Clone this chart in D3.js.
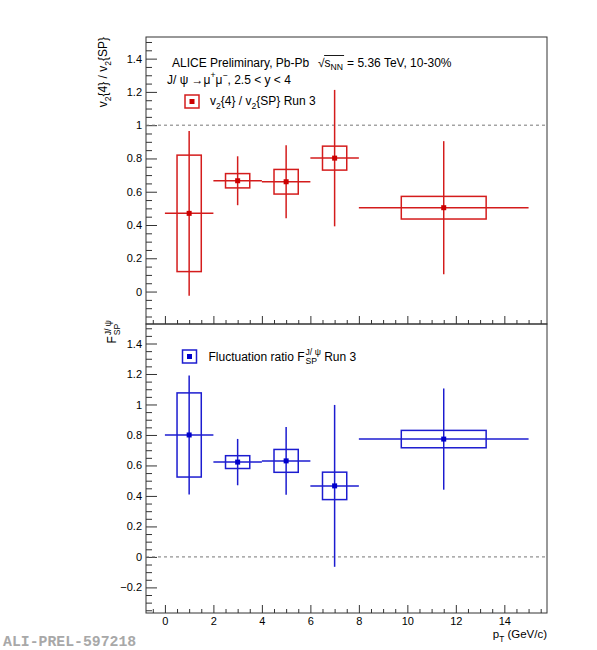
<!DOCTYPE html>
<html>
<head>
<meta charset="utf-8">
<script src="https://cdn.jsdelivr.net/npm/d3@7"></script>
<style>
  body { margin: 0; background: #fff; }
  svg { display: block; }
  text { font-family: "Liberation Sans", Arial, Helvetica, sans-serif; white-space: pre; }
</style>
</head>
<body>
<svg id="canvas" width="597" height="650"></svg>
<script>
// pT bins (GeV/c)
const ptBins = [1, 3, 5, 7, 11.5];
const ptErr = [1, 1, 1, 1, 3.5];
const ptBoxHalf = [0.5, 0.5, 0.5, 0.5, 1.75];

// v2{4} / v2{SP}
const v2Ratio = [0.47, 0.666, 0.66, 0.802, 0.504];
const v2RatioStat = [0.495, 0.147, 0.22, 0.41, 0.40];
const v2RatioSys = [0.35, 0.043, 0.074, 0.072, 0.068];

// fluctuation ratio F_SP^{J/psi}
const fluctRatio = [0.80, 0.622, 0.63, 0.466, 0.773];
const fluctStat = [0.39, 0.152, 0.223, 0.531, 0.332];
const fluctSys = [0.276, 0.042, 0.075, 0.09, 0.057];

// ticks
const xTicks = [0, 2, 4, 6, 8, 10, 12, 14];
const yTicksTop = [0, 0.2, 0.4, 0.6, 0.8, 1, 1.2, 1.4];
const yTicksBottom = [-0.2, 0, 0.2, 0.4, 0.6, 0.8, 1, 1.2, 1.4];

const red = "#d41c1c", redMarker = "#cc0000";
const blue = "#1c1cd0", blueMarker = "#0000cc";

const svg = d3.select("#canvas");
const left = 146, right = 547;
const topY = 37, midY = 324, botY = 613;

const x = d3.scaleLinear().domain([-0.78, 15.76]).range([left, right]);
const yTop = d3.scaleLinear().domain([-0.195, 1.53]).range([midY, topY]);
const yBot = d3.scaleLinear().domain([-0.368, 1.528]).range([botY, midY]);

const fmt = d => String(Math.round(d * 10) / 10).replace("-", "\u2212");
const xMinor = d3.range(-0.5, 15.76, 0.5).filter(v => Math.abs(v / 2 - Math.round(v / 2)) > 1e-6);

function minorY(y) {
    const [a, b] = y.domain();
    return d3.range(Math.ceil(a / 0.05) * 0.05, b, 0.05)
        .filter(v => Math.abs(v / 0.2 - Math.round(v / 0.2)) > 1e-6);
}

function styleAxis(g) {
    g.select(".domain").remove();
    g.selectAll(".tick line").attr("stroke", "#333").attr("stroke-width", 1);
    g.selectAll(".tick text")
        .attr("font-family", "Liberation Sans, Arial, sans-serif")
        .attr("font-size", 11)
        .attr("fill", "#000");
}

function drawPanel(y, yTicks, y0, y1, showXLabels) {
    const g = svg.append("g");

    g.append("g").attr("transform", `translate(${left},0)`)
        .call(d3.axisLeft(y).tickValues(yTicks).tickSize(-11).tickSizeOuter(0).tickPadding(4).tickFormat(fmt))
        .call(styleAxis);
    g.append("g").attr("transform", `translate(${left},0)`)
        .call(d3.axisLeft(y).tickValues(minorY(y)).tickSize(-6).tickSizeOuter(0).tickFormat(""))
        .call(styleAxis);

    g.append("g").attr("transform", `translate(0,${y1})`)
        .call(d3.axisBottom(x).tickValues(xTicks).tickSize(-8).tickSizeOuter(0).tickPadding(4)
            .tickFormat(showXLabels ? d3.format("d") : ""))
        .call(styleAxis);
    g.append("g").attr("transform", `translate(0,${y1})`)
        .call(d3.axisBottom(x).tickValues(xMinor).tickSize(-4).tickSizeOuter(0).tickFormat(""))
        .call(styleAxis);

    g.append("rect")
        .attr("x", left).attr("y", y0)
        .attr("width", right - left).attr("height", y1 - y0)
        .attr("fill", "none").attr("stroke", "#333").attr("stroke-width", 1);
    return g;
}

function drawSeries(y, vals, stat, sys, color, markerColor) {
    const g = svg.append("g");
    const idx = d3.range(vals.length);

    g.selectAll(".sys").data(idx).join("rect")
        .attr("x", i => x(ptBins[i] - ptBoxHalf[i]))
        .attr("width", i => x(ptBins[i] + ptBoxHalf[i]) - x(ptBins[i] - ptBoxHalf[i]))
        .attr("y", i => y(vals[i] + sys[i]))
        .attr("height", i => y(vals[i] - sys[i]) - y(vals[i] + sys[i]))
        .attr("fill", "none").attr("stroke", color).attr("stroke-width", 1.5);

    g.selectAll(".ex").data(idx).join("line")
        .attr("x1", i => x(ptBins[i] - ptErr[i]))
        .attr("x2", i => x(ptBins[i] + ptErr[i]))
        .attr("y1", i => y(vals[i])).attr("y2", i => y(vals[i]))
        .attr("stroke", color).attr("stroke-width", 1.5);

    g.selectAll(".ey").data(idx).join("line")
        .attr("x1", i => x(ptBins[i])).attr("x2", i => x(ptBins[i]))
        .attr("y1", i => y(vals[i] + stat[i]))
        .attr("y2", i => y(vals[i] - stat[i]))
        .attr("stroke", color).attr("stroke-width", 1.5);

    g.selectAll(".mk").data(idx).join("rect")
        .attr("x", i => x(ptBins[i]) - 2.5)
        .attr("y", i => y(vals[i]) - 2.5)
        .attr("width", 5).attr("height", 5)
        .attr("fill", markerColor);
}

// rich text: parts are [string, kind], kind "", "sub", "sup" or "stack" ([sup, sub])
function richText(sel, parts, size) {
    let shift = 0;
    let pendingDx = 0;
    const small = size * 0.72;
    const upOff = -size * 0.42, downOff = size * 0.32;
    parts.forEach(p => {
        const kind = p[1] || "";
        if (kind === "stack") {
            const a = sel.append("tspan").attr("font-size", small)
                .attr("dx", pendingDx + 1).attr("dy", upOff - shift).text(p[0][0]);
            const la = a.node().getComputedTextLength();
            const b = sel.append("tspan").attr("font-size", small)
                .attr("dx", -la).attr("dy", downOff - upOff).text(p[0][1]);
            const lb = b.node().getComputedTextLength();
            shift = downOff;
            pendingDx = Math.max(0, la - lb);
            return;
        }
        const target = kind === "sub" ? downOff : kind === "sup" ? upOff : 0;
        sel.append("tspan")
            .attr("font-size", kind ? small : size)
            .attr("dx", pendingDx)
            .attr("dy", target - shift)
            .text(p[0]);
        shift = target;
        pendingDx = 0;
    });
    return sel;
}

drawPanel(yTop, yTicksTop, topY, midY, false);
drawPanel(yBot, yTicksBottom, midY, botY, true);

// reference lines
svg.append("line")
    .attr("x1", left).attr("x2", right)
    .attr("y1", yTop(1)).attr("y2", yTop(1))
    .attr("stroke", "#777").attr("stroke-width", 1).attr("stroke-dasharray", "3,3");
svg.append("line")
    .attr("x1", left).attr("x2", right)
    .attr("y1", yBot(0)).attr("y2", yBot(0))
    .attr("stroke", "#777").attr("stroke-width", 1).attr("stroke-dasharray", "3,3");

drawSeries(yTop, v2Ratio, v2RatioStat, v2RatioSys, red, redMarker);
drawSeries(yBot, fluctRatio, fluctStat, fluctSys, blue, blueMarker);

// header
svg.append("text").attr("x", 172).attr("y", 66.5).attr("font-size", 12)
    .text("ALICE Preliminary, Pb-Pb");
const sq = svg.append("text").attr("x", 318).attr("y", 66.5).attr("font-size", 12).text("\u221A");
const sqW = sq.node().getComputedTextLength();
const sNN = svg.append("text").attr("x", 318 + sqW).attr("y", 66.5);
richText(sNN, [["s"], ["NN", "sub"]], 12);
const sNNW = sNN.node().getBBox().width;
svg.append("line")
    .attr("x1", 318 + sqW - 0.5).attr("x2", 318 + sqW + sNNW + 1)
    .attr("y1", 55.5).attr("y2", 55.5)
    .attr("stroke", "#000").attr("stroke-width", 0.9);
svg.append("text").attr("x", 318 + sqW + sNNW + 4).attr("y", 66.5).attr("font-size", 12)
    .text("= 5.36 TeV, 10-30%");

richText(svg.append("text").attr("x", 167).attr("y", 83.5),
    [["J/ \u03C8 \u2192\u03BC"], ["+", "sup"], ["\u03BC"], ["\u2212", "sup"], [", 2.5 < y < 4"]], 12);

// legends
function legendBox(cx, cy, color, markerColor) {
    svg.append("rect").attr("x", cx - 7).attr("y", cy - 6.5).attr("width", 14).attr("height", 13)
        .attr("fill", "none").attr("stroke", color).attr("stroke-width", 1.5);
    svg.append("rect").attr("x", cx - 2.5).attr("y", cy - 2.5).attr("width", 5).attr("height", 5)
        .attr("fill", markerColor);
}
legendBox(192, 101.5, red, redMarker);
richText(svg.append("text").attr("x", 210).attr("y", 105),
    [["v"], ["2", "sub"], ["{4} / v"], ["2", "sub"], ["{SP} Run 3"]], 12);

legendBox(189.5, 356.5, blue, blueMarker);
richText(svg.append("text").attr("x", 208.5).attr("y", 360.5),
    [["Fluctuation ratio F"], [["J/ \u03C8", "SP"], "stack"], ["\u00A0Run 3"]], 12);

// axis titles
const tTop = svg.append("text").attr("text-anchor", "end")
    .attr("transform", "translate(107,37) rotate(-90)");
richText(tTop, [["v"], ["2", "sub"], ["{4} / v"], ["2", "sub"], ["{SP}"]], 12);

const tBotG = svg.append("g").attr("transform", "translate(116,320) rotate(-90)");
const tBot = tBotG.append("text");
richText(tBot, [["F"], [["J/ \u03C8", "SP"], "stack"]], 12);
tBot.attr("x", -tBot.node().getBBox().width);

richText(svg.append("text").attr("x", 547).attr("y", 638).attr("text-anchor", "end"),
    [["p"], ["T", "sub"], ["\u00A0(GeV/c)"]], 11.5);

// preliminary label
svg.append("text").attr("x", 3).attr("y", 646)
    .style("font-family", "'Liberation Mono', 'Courier New', monospace")
    .style("font-weight", "bold")
    .style("fill", "#a8a8a8")
    .attr("font-size", 14.8)
    .text("ALI-PREL-597218");
</script>
</body>
</html>
